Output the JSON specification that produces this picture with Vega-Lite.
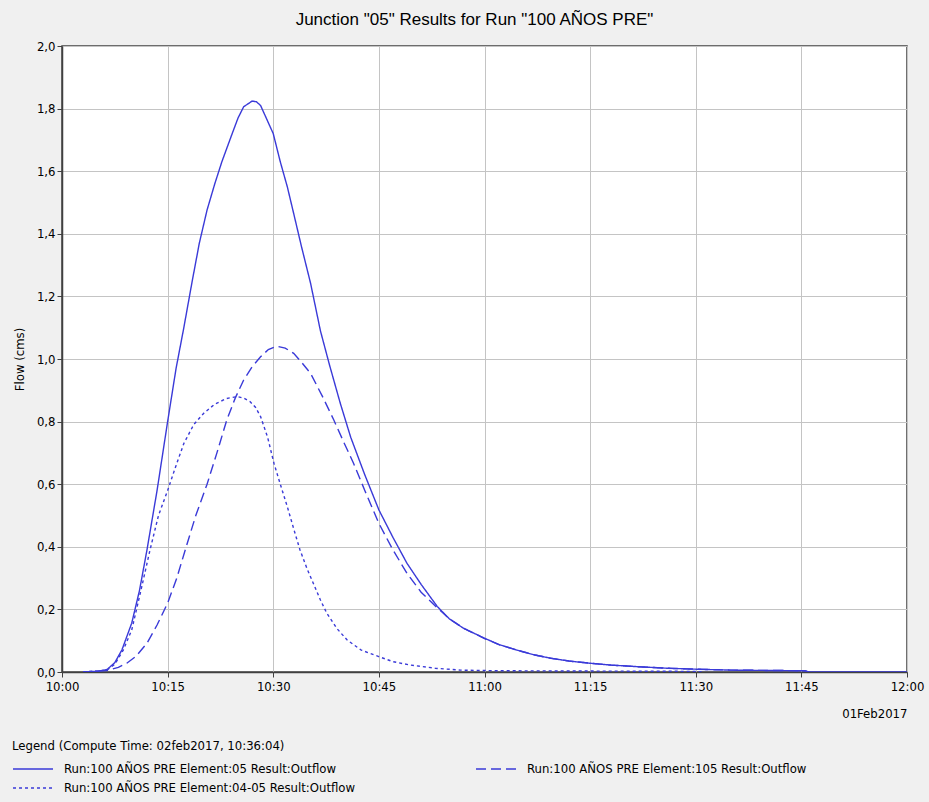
{
  "$schema": "https://vega.github.io/schema/vega-lite/v6.json",
  "width": 845,
  "height": 626,
  "autosize": {"type": "none"},
  "padding": {"left": 62, "top": 46, "right": 22, "bottom": 130},
  "background": "#f0f0f0",
  "title": {
    "text": "Junction \"05\" Results for Run \"100 AÑOS PRE\"",
    "font": "Liberation Sans, Arial, sans-serif",
    "fontSize": 17,
    "fontWeight": "normal",
    "color": "#000000",
    "anchor": "middle",
    "dx": -10,
    "offset": 11
  },
  "config": {
    "view": {"fill": "#ffffff", "stroke": "#404040", "strokeWidth": 1.5},
    "axis": {
      "labelFont": "Liberation Sans Narrow, DejaVu Sans Condensed, sans-serif",
      "labelFontSize": 13,
      "labelColor": "#000000",
      "titleFont": "Liberation Sans Narrow, DejaVu Sans Condensed, sans-serif",
      "titleFontSize": 13,
      "titleFontWeight": "normal",
      "titleColor": "#000000",
      "gridColor": "#c4c4c4",
      "gridOpacity": 1,
      "gridWidth": 1,
      "domainColor": "#404040",
      "domainWidth": 1.5,
      "tickColor": "#404040",
      "tickSize": 5
    },
    "legend": {
      "labelFont": "Liberation Sans Narrow, DejaVu Sans Condensed, sans-serif",
      "titleFont": "Liberation Sans Narrow, DejaVu Sans Condensed, sans-serif"
    }
  },
  "data": {
    "values": [
      {"t": "2017-02-01T10:03:00", "s": "Run:100 AÑOS PRE Element:05 Result:Outflow", "v": 0},
      {"t": "2017-02-01T10:05:00", "s": "Run:100 AÑOS PRE Element:05 Result:Outflow", "v": 0.002},
      {"t": "2017-02-01T10:06:24", "s": "Run:100 AÑOS PRE Element:05 Result:Outflow", "v": 0.008},
      {"t": "2017-02-01T10:07:30", "s": "Run:100 AÑOS PRE Element:05 Result:Outflow", "v": 0.03},
      {"t": "2017-02-01T10:08:30", "s": "Run:100 AÑOS PRE Element:05 Result:Outflow", "v": 0.07},
      {"t": "2017-02-01T10:09:54", "s": "Run:100 AÑOS PRE Element:05 Result:Outflow", "v": 0.156},
      {"t": "2017-02-01T10:11:00", "s": "Run:100 AÑOS PRE Element:05 Result:Outflow", "v": 0.26},
      {"t": "2017-02-01T10:12:04", "s": "Run:100 AÑOS PRE Element:05 Result:Outflow", "v": 0.39},
      {"t": "2017-02-01T10:13:30", "s": "Run:100 AÑOS PRE Element:05 Result:Outflow", "v": 0.58},
      {"t": "2017-02-01T10:15:00", "s": "Run:100 AÑOS PRE Element:05 Result:Outflow", "v": 0.8},
      {"t": "2017-02-01T10:16:12", "s": "Run:100 AÑOS PRE Element:05 Result:Outflow", "v": 0.97},
      {"t": "2017-02-01T10:17:18", "s": "Run:100 AÑOS PRE Element:05 Result:Outflow", "v": 1.1},
      {"t": "2017-02-01T10:18:30", "s": "Run:100 AÑOS PRE Element:05 Result:Outflow", "v": 1.25},
      {"t": "2017-02-01T10:19:30", "s": "Run:100 AÑOS PRE Element:05 Result:Outflow", "v": 1.37},
      {"t": "2017-02-01T10:20:36", "s": "Run:100 AÑOS PRE Element:05 Result:Outflow", "v": 1.476},
      {"t": "2017-02-01T10:21:42", "s": "Run:100 AÑOS PRE Element:05 Result:Outflow", "v": 1.56},
      {"t": "2017-02-01T10:22:42", "s": "Run:100 AÑOS PRE Element:05 Result:Outflow", "v": 1.63},
      {"t": "2017-02-01T10:24:06", "s": "Run:100 AÑOS PRE Element:05 Result:Outflow", "v": 1.716},
      {"t": "2017-02-01T10:25:00", "s": "Run:100 AÑOS PRE Element:05 Result:Outflow", "v": 1.77},
      {"t": "2017-02-01T10:25:48", "s": "Run:100 AÑOS PRE Element:05 Result:Outflow", "v": 1.806},
      {"t": "2017-02-01T10:27:00", "s": "Run:100 AÑOS PRE Element:05 Result:Outflow", "v": 1.824},
      {"t": "2017-02-01T10:27:36", "s": "Run:100 AÑOS PRE Element:05 Result:Outflow", "v": 1.822},
      {"t": "2017-02-01T10:28:12", "s": "Run:100 AÑOS PRE Element:05 Result:Outflow", "v": 1.81},
      {"t": "2017-02-01T10:29:00", "s": "Run:100 AÑOS PRE Element:05 Result:Outflow", "v": 1.77},
      {"t": "2017-02-01T10:30:00", "s": "Run:100 AÑOS PRE Element:05 Result:Outflow", "v": 1.72},
      {"t": "2017-02-01T10:31:00", "s": "Run:100 AÑOS PRE Element:05 Result:Outflow", "v": 1.63},
      {"t": "2017-02-01T10:32:00", "s": "Run:100 AÑOS PRE Element:05 Result:Outflow", "v": 1.55},
      {"t": "2017-02-01T10:32:54", "s": "Run:100 AÑOS PRE Element:05 Result:Outflow", "v": 1.465},
      {"t": "2017-02-01T10:34:00", "s": "Run:100 AÑOS PRE Element:05 Result:Outflow", "v": 1.36},
      {"t": "2017-02-01T10:35:18", "s": "Run:100 AÑOS PRE Element:05 Result:Outflow", "v": 1.242},
      {"t": "2017-02-01T10:36:42", "s": "Run:100 AÑOS PRE Element:05 Result:Outflow", "v": 1.09},
      {"t": "2017-02-01T10:38:00", "s": "Run:100 AÑOS PRE Element:05 Result:Outflow", "v": 0.98},
      {"t": "2017-02-01T10:39:30", "s": "Run:100 AÑOS PRE Element:05 Result:Outflow", "v": 0.86},
      {"t": "2017-02-01T10:41:00", "s": "Run:100 AÑOS PRE Element:05 Result:Outflow", "v": 0.75},
      {"t": "2017-02-01T10:43:00", "s": "Run:100 AÑOS PRE Element:05 Result:Outflow", "v": 0.63},
      {"t": "2017-02-01T10:45:00", "s": "Run:100 AÑOS PRE Element:05 Result:Outflow", "v": 0.518},
      {"t": "2017-02-01T10:47:00", "s": "Run:100 AÑOS PRE Element:05 Result:Outflow", "v": 0.43},
      {"t": "2017-02-01T10:49:00", "s": "Run:100 AÑOS PRE Element:05 Result:Outflow", "v": 0.347},
      {"t": "2017-02-01T10:51:00", "s": "Run:100 AÑOS PRE Element:05 Result:Outflow", "v": 0.28},
      {"t": "2017-02-01T10:53:18", "s": "Run:100 AÑOS PRE Element:05 Result:Outflow", "v": 0.209},
      {"t": "2017-02-01T10:55:00", "s": "Run:100 AÑOS PRE Element:05 Result:Outflow", "v": 0.17},
      {"t": "2017-02-01T10:57:00", "s": "Run:100 AÑOS PRE Element:05 Result:Outflow", "v": 0.14},
      {"t": "2017-02-01T11:00:00", "s": "Run:100 AÑOS PRE Element:05 Result:Outflow", "v": 0.108},
      {"t": "2017-02-01T11:02:00", "s": "Run:100 AÑOS PRE Element:05 Result:Outflow", "v": 0.088},
      {"t": "2017-02-01T11:04:36", "s": "Run:100 AÑOS PRE Element:05 Result:Outflow", "v": 0.07},
      {"t": "2017-02-01T11:07:00", "s": "Run:100 AÑOS PRE Element:05 Result:Outflow", "v": 0.055},
      {"t": "2017-02-01T11:09:24", "s": "Run:100 AÑOS PRE Element:05 Result:Outflow", "v": 0.044},
      {"t": "2017-02-01T11:12:00", "s": "Run:100 AÑOS PRE Element:05 Result:Outflow", "v": 0.035},
      {"t": "2017-02-01T11:15:00", "s": "Run:100 AÑOS PRE Element:05 Result:Outflow", "v": 0.028},
      {"t": "2017-02-01T11:18:00", "s": "Run:100 AÑOS PRE Element:05 Result:Outflow", "v": 0.022},
      {"t": "2017-02-01T11:21:42", "s": "Run:100 AÑOS PRE Element:05 Result:Outflow", "v": 0.017},
      {"t": "2017-02-01T11:26:00", "s": "Run:100 AÑOS PRE Element:05 Result:Outflow", "v": 0.012},
      {"t": "2017-02-01T11:30:00", "s": "Run:100 AÑOS PRE Element:05 Result:Outflow", "v": 0.009},
      {"t": "2017-02-01T11:35:00", "s": "Run:100 AÑOS PRE Element:05 Result:Outflow", "v": 0.006},
      {"t": "2017-02-01T11:40:00", "s": "Run:100 AÑOS PRE Element:05 Result:Outflow", "v": 0.005},
      {"t": "2017-02-01T11:45:30", "s": "Run:100 AÑOS PRE Element:05 Result:Outflow", "v": 0.004},
      {"t": "2017-02-01T11:46:00", "s": "Run:100 AÑOS PRE Element:05 Result:Outflow", "v": 0},
      {"t": "2017-02-01T12:00:00", "s": "Run:100 AÑOS PRE Element:05 Result:Outflow", "v": 0},

      {"t": "2017-02-01T10:03:00", "s": "Run:100 AÑOS PRE Element:105 Result:Outflow", "v": 0},
      {"t": "2017-02-01T10:06:24", "s": "Run:100 AÑOS PRE Element:105 Result:Outflow", "v": 0.005},
      {"t": "2017-02-01T10:08:00", "s": "Run:100 AÑOS PRE Element:105 Result:Outflow", "v": 0.015},
      {"t": "2017-02-01T10:09:12", "s": "Run:100 AÑOS PRE Element:105 Result:Outflow", "v": 0.028},
      {"t": "2017-02-01T10:10:30", "s": "Run:100 AÑOS PRE Element:105 Result:Outflow", "v": 0.05},
      {"t": "2017-02-01T10:12:04", "s": "Run:100 AÑOS PRE Element:105 Result:Outflow", "v": 0.092},
      {"t": "2017-02-01T10:13:30", "s": "Run:100 AÑOS PRE Element:105 Result:Outflow", "v": 0.15},
      {"t": "2017-02-01T10:15:00", "s": "Run:100 AÑOS PRE Element:105 Result:Outflow", "v": 0.22},
      {"t": "2017-02-01T10:16:18", "s": "Run:100 AÑOS PRE Element:105 Result:Outflow", "v": 0.3},
      {"t": "2017-02-01T10:17:30", "s": "Run:100 AÑOS PRE Element:105 Result:Outflow", "v": 0.39},
      {"t": "2017-02-01T10:19:00", "s": "Run:100 AÑOS PRE Element:105 Result:Outflow", "v": 0.5},
      {"t": "2017-02-01T10:20:36", "s": "Run:100 AÑOS PRE Element:105 Result:Outflow", "v": 0.6},
      {"t": "2017-02-01T10:22:00", "s": "Run:100 AÑOS PRE Element:105 Result:Outflow", "v": 0.7},
      {"t": "2017-02-01T10:23:24", "s": "Run:100 AÑOS PRE Element:105 Result:Outflow", "v": 0.805},
      {"t": "2017-02-01T10:24:36", "s": "Run:100 AÑOS PRE Element:105 Result:Outflow", "v": 0.875},
      {"t": "2017-02-01T10:25:48", "s": "Run:100 AÑOS PRE Element:105 Result:Outflow", "v": 0.933},
      {"t": "2017-02-01T10:27:00", "s": "Run:100 AÑOS PRE Element:105 Result:Outflow", "v": 0.975},
      {"t": "2017-02-01T10:28:12", "s": "Run:100 AÑOS PRE Element:105 Result:Outflow", "v": 1.007},
      {"t": "2017-02-01T10:29:18", "s": "Run:100 AÑOS PRE Element:105 Result:Outflow", "v": 1.03},
      {"t": "2017-02-01T10:30:30", "s": "Run:100 AÑOS PRE Element:105 Result:Outflow", "v": 1.041},
      {"t": "2017-02-01T10:31:42", "s": "Run:100 AÑOS PRE Element:105 Result:Outflow", "v": 1.035},
      {"t": "2017-02-01T10:32:54", "s": "Run:100 AÑOS PRE Element:105 Result:Outflow", "v": 1.018},
      {"t": "2017-02-01T10:34:00", "s": "Run:100 AÑOS PRE Element:105 Result:Outflow", "v": 0.99},
      {"t": "2017-02-01T10:35:18", "s": "Run:100 AÑOS PRE Element:105 Result:Outflow", "v": 0.954},
      {"t": "2017-02-01T10:37:00", "s": "Run:100 AÑOS PRE Element:105 Result:Outflow", "v": 0.88},
      {"t": "2017-02-01T10:38:36", "s": "Run:100 AÑOS PRE Element:105 Result:Outflow", "v": 0.805},
      {"t": "2017-02-01T10:40:00", "s": "Run:100 AÑOS PRE Element:105 Result:Outflow", "v": 0.735},
      {"t": "2017-02-01T10:41:24", "s": "Run:100 AÑOS PRE Element:105 Result:Outflow", "v": 0.667},
      {"t": "2017-02-01T10:43:00", "s": "Run:100 AÑOS PRE Element:105 Result:Outflow", "v": 0.58},
      {"t": "2017-02-01T10:45:00", "s": "Run:100 AÑOS PRE Element:105 Result:Outflow", "v": 0.475},
      {"t": "2017-02-01T10:47:00", "s": "Run:100 AÑOS PRE Element:105 Result:Outflow", "v": 0.39},
      {"t": "2017-02-01T10:49:00", "s": "Run:100 AÑOS PRE Element:105 Result:Outflow", "v": 0.315},
      {"t": "2017-02-01T10:51:00", "s": "Run:100 AÑOS PRE Element:105 Result:Outflow", "v": 0.255},
      {"t": "2017-02-01T10:53:18", "s": "Run:100 AÑOS PRE Element:105 Result:Outflow", "v": 0.205},
      {"t": "2017-02-01T10:55:00", "s": "Run:100 AÑOS PRE Element:105 Result:Outflow", "v": 0.17},
      {"t": "2017-02-01T10:57:00", "s": "Run:100 AÑOS PRE Element:105 Result:Outflow", "v": 0.14},
      {"t": "2017-02-01T11:00:00", "s": "Run:100 AÑOS PRE Element:105 Result:Outflow", "v": 0.107},
      {"t": "2017-02-01T11:02:00", "s": "Run:100 AÑOS PRE Element:105 Result:Outflow", "v": 0.088},
      {"t": "2017-02-01T11:04:36", "s": "Run:100 AÑOS PRE Element:105 Result:Outflow", "v": 0.07},
      {"t": "2017-02-01T11:07:00", "s": "Run:100 AÑOS PRE Element:105 Result:Outflow", "v": 0.055},
      {"t": "2017-02-01T11:09:24", "s": "Run:100 AÑOS PRE Element:105 Result:Outflow", "v": 0.044},
      {"t": "2017-02-01T11:12:00", "s": "Run:100 AÑOS PRE Element:105 Result:Outflow", "v": 0.035},
      {"t": "2017-02-01T11:15:00", "s": "Run:100 AÑOS PRE Element:105 Result:Outflow", "v": 0.028},
      {"t": "2017-02-01T11:18:00", "s": "Run:100 AÑOS PRE Element:105 Result:Outflow", "v": 0.022},
      {"t": "2017-02-01T11:21:42", "s": "Run:100 AÑOS PRE Element:105 Result:Outflow", "v": 0.017},
      {"t": "2017-02-01T11:26:00", "s": "Run:100 AÑOS PRE Element:105 Result:Outflow", "v": 0.012},
      {"t": "2017-02-01T11:30:00", "s": "Run:100 AÑOS PRE Element:105 Result:Outflow", "v": 0.009},
      {"t": "2017-02-01T11:35:00", "s": "Run:100 AÑOS PRE Element:105 Result:Outflow", "v": 0.006},
      {"t": "2017-02-01T11:40:00", "s": "Run:100 AÑOS PRE Element:105 Result:Outflow", "v": 0.005},
      {"t": "2017-02-01T11:45:30", "s": "Run:100 AÑOS PRE Element:105 Result:Outflow", "v": 0.004},
      {"t": "2017-02-01T11:46:00", "s": "Run:100 AÑOS PRE Element:105 Result:Outflow", "v": 0},

      {"t": "2017-02-01T10:03:00", "s": "Run:100 AÑOS PRE Element:04-05 Result:Outflow", "v": 0},
      {"t": "2017-02-01T10:06:24", "s": "Run:100 AÑOS PRE Element:04-05 Result:Outflow", "v": 0.006},
      {"t": "2017-02-01T10:07:30", "s": "Run:100 AÑOS PRE Element:04-05 Result:Outflow", "v": 0.025},
      {"t": "2017-02-01T10:08:42", "s": "Run:100 AÑOS PRE Element:04-05 Result:Outflow", "v": 0.07},
      {"t": "2017-02-01T10:09:54", "s": "Run:100 AÑOS PRE Element:04-05 Result:Outflow", "v": 0.134},
      {"t": "2017-02-01T10:11:12", "s": "Run:100 AÑOS PRE Element:04-05 Result:Outflow", "v": 0.26},
      {"t": "2017-02-01T10:12:30", "s": "Run:100 AÑOS PRE Element:04-05 Result:Outflow", "v": 0.39},
      {"t": "2017-02-01T10:13:42", "s": "Run:100 AÑOS PRE Element:04-05 Result:Outflow", "v": 0.5},
      {"t": "2017-02-01T10:15:00", "s": "Run:100 AÑOS PRE Element:04-05 Result:Outflow", "v": 0.58},
      {"t": "2017-02-01T10:16:12", "s": "Run:100 AÑOS PRE Element:04-05 Result:Outflow", "v": 0.66},
      {"t": "2017-02-01T10:17:18", "s": "Run:100 AÑOS PRE Element:04-05 Result:Outflow", "v": 0.73},
      {"t": "2017-02-01T10:18:42", "s": "Run:100 AÑOS PRE Element:04-05 Result:Outflow", "v": 0.79},
      {"t": "2017-02-01T10:20:06", "s": "Run:100 AÑOS PRE Element:04-05 Result:Outflow", "v": 0.826},
      {"t": "2017-02-01T10:21:42", "s": "Run:100 AÑOS PRE Element:04-05 Result:Outflow", "v": 0.856},
      {"t": "2017-02-01T10:23:24", "s": "Run:100 AÑOS PRE Element:04-05 Result:Outflow", "v": 0.874},
      {"t": "2017-02-01T10:24:54", "s": "Run:100 AÑOS PRE Element:04-05 Result:Outflow", "v": 0.88},
      {"t": "2017-02-01T10:25:48", "s": "Run:100 AÑOS PRE Element:04-05 Result:Outflow", "v": 0.875},
      {"t": "2017-02-01T10:26:42", "s": "Run:100 AÑOS PRE Element:04-05 Result:Outflow", "v": 0.864},
      {"t": "2017-02-01T10:27:30", "s": "Run:100 AÑOS PRE Element:04-05 Result:Outflow", "v": 0.845},
      {"t": "2017-02-01T10:28:12", "s": "Run:100 AÑOS PRE Element:04-05 Result:Outflow", "v": 0.816},
      {"t": "2017-02-01T10:29:12", "s": "Run:100 AÑOS PRE Element:04-05 Result:Outflow", "v": 0.75},
      {"t": "2017-02-01T10:30:06", "s": "Run:100 AÑOS PRE Element:04-05 Result:Outflow", "v": 0.667},
      {"t": "2017-02-01T10:31:00", "s": "Run:100 AÑOS PRE Element:04-05 Result:Outflow", "v": 0.6},
      {"t": "2017-02-01T10:32:00", "s": "Run:100 AÑOS PRE Element:04-05 Result:Outflow", "v": 0.528},
      {"t": "2017-02-01T10:33:00", "s": "Run:100 AÑOS PRE Element:04-05 Result:Outflow", "v": 0.45},
      {"t": "2017-02-01T10:33:48", "s": "Run:100 AÑOS PRE Element:04-05 Result:Outflow", "v": 0.39},
      {"t": "2017-02-01T10:34:48", "s": "Run:100 AÑOS PRE Element:04-05 Result:Outflow", "v": 0.33},
      {"t": "2017-02-01T10:35:42", "s": "Run:100 AÑOS PRE Element:04-05 Result:Outflow", "v": 0.283},
      {"t": "2017-02-01T10:36:42", "s": "Run:100 AÑOS PRE Element:04-05 Result:Outflow", "v": 0.23},
      {"t": "2017-02-01T10:37:36", "s": "Run:100 AÑOS PRE Element:04-05 Result:Outflow", "v": 0.188},
      {"t": "2017-02-01T10:39:00", "s": "Run:100 AÑOS PRE Element:04-05 Result:Outflow", "v": 0.14},
      {"t": "2017-02-01T10:40:30", "s": "Run:100 AÑOS PRE Element:04-05 Result:Outflow", "v": 0.102},
      {"t": "2017-02-01T10:42:30", "s": "Run:100 AÑOS PRE Element:04-05 Result:Outflow", "v": 0.07},
      {"t": "2017-02-01T10:45:00", "s": "Run:100 AÑOS PRE Element:04-05 Result:Outflow", "v": 0.049},
      {"t": "2017-02-01T10:47:00", "s": "Run:100 AÑOS PRE Element:04-05 Result:Outflow", "v": 0.033},
      {"t": "2017-02-01T10:49:30", "s": "Run:100 AÑOS PRE Element:04-05 Result:Outflow", "v": 0.022},
      {"t": "2017-02-01T10:53:00", "s": "Run:100 AÑOS PRE Element:04-05 Result:Outflow", "v": 0.012},
      {"t": "2017-02-01T10:56:36", "s": "Run:100 AÑOS PRE Element:04-05 Result:Outflow", "v": 0.006},
      {"t": "2017-02-01T11:02:00", "s": "Run:100 AÑOS PRE Element:04-05 Result:Outflow", "v": 0.004},
      {"t": "2017-02-01T11:15:00", "s": "Run:100 AÑOS PRE Element:04-05 Result:Outflow", "v": 0.003},
      {"t": "2017-02-01T11:30:00", "s": "Run:100 AÑOS PRE Element:04-05 Result:Outflow", "v": 0.002},
      {"t": "2017-02-01T11:31:00", "s": "Run:100 AÑOS PRE Element:04-05 Result:Outflow", "v": 0}
    ]
  },
  "mark": {"type": "line", "color": "#3a3ad8", "strokeWidth": 1.4, "clip": true},
  "encoding": {
    "x": {
      "field": "t",
      "type": "temporal",
      "scale": {
        "domain": ["2017-02-01T10:00:00", "2017-02-01T12:00:00"],
        "nice": false
      },
      "axis": {
        "format": "%H:%M",
        "values": [
          "2017-02-01T10:00:00", "2017-02-01T10:15:00", "2017-02-01T10:30:00",
          "2017-02-01T10:45:00", "2017-02-01T11:00:00", "2017-02-01T11:15:00",
          "2017-02-01T11:30:00", "2017-02-01T11:45:00", "2017-02-01T12:00:00"
        ],
        "labelPadding": 3,
        "labelFlush": false,
        "title": "01Feb2017",
        "titleAnchor": "end",
        "titleAlign": "right",
        "titlePadding": 14
      }
    },
    "y": {
      "field": "v",
      "type": "quantitative",
      "scale": {"domain": [0, 2], "nice": false},
      "axis": {
        "values": [0, 0.2, 0.4, 0.6, 0.8, 1.0, 1.2, 1.4, 1.6, 1.8, 2.0],
        "labelExpr": "replace(format(datum.value, '.1f'), '.', ',')",
        "labelPadding": 2,
        "title": "Flow (cms)",
        "titlePadding": 10
      }
    },
    "strokeDash": {
      "field": "s",
      "type": "nominal",
      "sort": null,
      "scale": {
        "domain": [
          "Run:100 AÑOS PRE Element:05 Result:Outflow",
          "Run:100 AÑOS PRE Element:105 Result:Outflow",
          "Run:100 AÑOS PRE Element:04-05 Result:Outflow"
        ],
        "range": [[1, 0], [10, 5], [3, 3]]
      },
      "legend": {
        "orient": "none",
        "legendX": -50,
        "legendY": 694,
        "direction": "horizontal",
        "columns": 2,
        "columnPadding": 117,
        "rowPadding": 1,
        "title": "Legend (Compute Time: 02feb2017, 10:36:04)",
        "titleFontSize": 13,
        "titleFontWeight": "normal",
        "titleColor": "#000000",
        "titleLimit": 500,
        "titlePadding": 5,
        "labelFontSize": 13,
        "labelColor": "#000000",
        "labelLimit": 400,
        "labelOffset": 30,
        "symbolType": "M-1,0H3",
        "symbolSize": 400,
        "symbolStrokeWidth": 1.4,
        "symbolStrokeColor": "#3a3ad8",
        "symbolFillColor": "transparent"
      }
    }
  }
}
